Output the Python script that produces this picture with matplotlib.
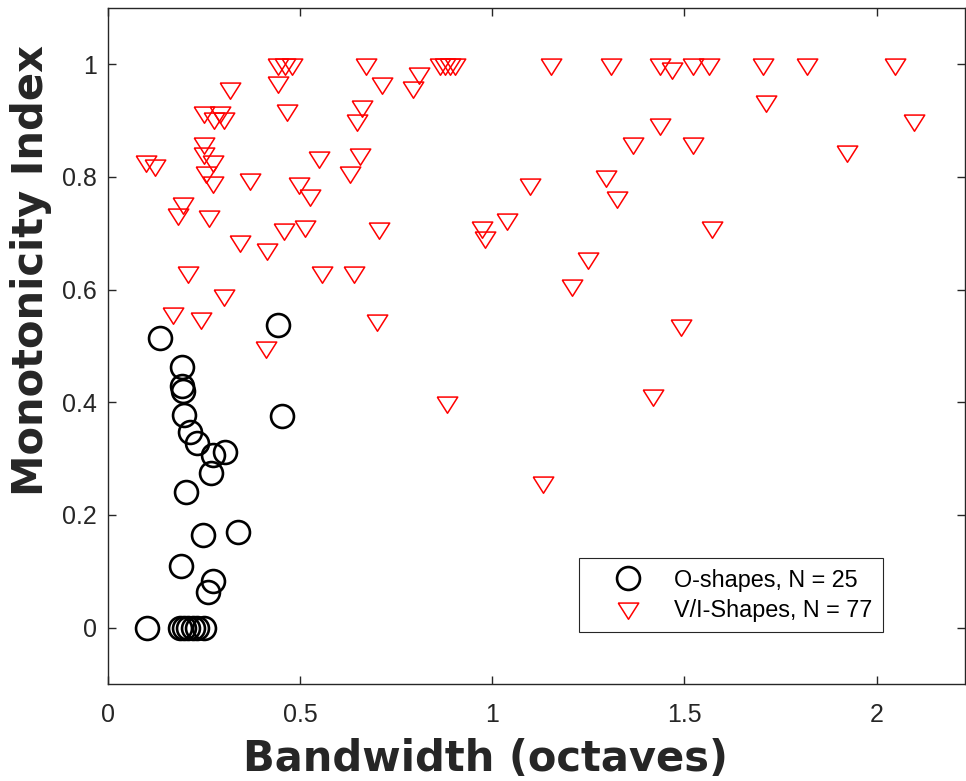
import numpy as np
import matplotlib.pyplot as plt

plt.rcParams['font.family'] = ['Liberation Sans', 'DejaVu Sans']

# O-shapes (black circles)
o_bw = [0.136, 0.443, 0.192, 0.193, 0.196, 0.452, 0.198, 0.213, 0.231, 0.273,
        0.304, 0.267, 0.203, 0.247, 0.338, 0.189, 0.274, 0.260, 0.101,
        0.188, 0.198, 0.208, 0.221, 0.232, 0.250]
o_mi = [0.515, 0.537, 0.463, 0.429, 0.421, 0.376, 0.377, 0.348, 0.328, 0.306,
        0.312, 0.274, 0.241, 0.164, 0.170, 0.110, 0.083, 0.064, 0.0,
        0.0, 0.0, 0.0, 0.0, 0.0, 0.0]

# V/I-shapes (red triangles)
v_bw = [0.100, 0.121, 0.317, 0.443, 0.480, 0.443, 0.465, 0.250, 0.292, 0.276,
        0.302, 0.251, 0.251, 0.272, 0.256, 0.272, 0.550, 0.370, 0.498, 0.526,
        0.195, 0.181, 0.262, 0.344, 0.415, 0.458, 0.513, 0.207, 0.557, 0.302,
        0.169, 0.241, 0.410,
        0.672, 0.714, 0.810, 0.794, 0.865, 0.877, 0.903, 1.153, 0.662, 0.649,
        0.656, 0.629, 1.365, 1.297, 1.325, 1.097, 0.704, 0.972, 0.981, 1.039,
        0.641, 1.249, 1.207, 0.701,
        0.883, 1.131,
        1.309, 1.437, 1.467, 1.522, 1.565, 1.704, 1.818, 2.049,
        1.712, 2.096, 1.4375, 1.522, 1.922, 1.571,
        1.492, 1.417,
        0.460, 0.890]
v_mi = [0.828, 0.821, 0.958, 1.0, 1.0, 0.968, 0.919, 0.916, 0.916, 0.904,
        0.904, 0.860, 0.843, 0.828, 0.809, 0.792, 0.835, 0.796, 0.789, 0.768,
        0.753, 0.734, 0.730, 0.686, 0.672, 0.707, 0.713, 0.632, 0.631, 0.590,
        0.558, 0.550, 0.499,
        1.0, 0.966, 0.984, 0.960, 1.0, 1.0, 1.0, 1.0, 0.926, 0.902,
        0.840, 0.809, 0.860, 0.801, 0.765, 0.788, 0.710, 0.712, 0.693, 0.726,
        0.631, 0.656, 0.609, 0.546,
        0.400, 0.258,
        1.0, 1.0, 0.994, 1.0, 1.0, 1.0, 1.0, 1.0,
        0.935, 0.902, 0.894, 0.861, 0.846, 0.711,
        0.538, 0.413,
        1.0, 1.0]

o_label = "O-shapes, N = 25"
v_label = "V/I-Shapes, N = 77"

# downward triangle centred on its centroid, like MATLAB's 'v'
tri = [(-1, 0.53), (1, 0.53), (0, -1.05), (-1, 0.53)]

fig = plt.figure(figsize=(9.66, 7.81), dpi=100)
ax = fig.add_axes([108 / 966, 1 - 684 / 781, 857 / 966, 676 / 781])

ax.plot(o_bw, o_mi, linestyle='none', marker='o', markersize=16.5,
        markerfacecolor='none', markeredgecolor='black', markeredgewidth=1.9,
        label=o_label)
ax.plot(v_bw, v_mi, linestyle='none', marker=tri, markersize=15.5,
        markerfacecolor='none', markeredgecolor='red', markeredgewidth=1.1,
        label=v_label)

ax.set_xlim(0, 2.23)
ax.set_ylim(-0.1, 1.1)
ax.set_xticks([0, 0.5, 1, 1.5, 2])
ax.set_xticklabels(['0', '0.5', '1', '1.5', '2'])
ax.set_yticks([0, 0.2, 0.4, 0.6, 0.8, 1])
ax.set_yticklabels(['0', '0.2', '0.4', '0.6', '0.8', '1'])
ax.tick_params(direction='in', length=6, width=1, top=True, right=True,
               labelsize=18, colors='#262626')
ax.tick_params(axis='x', pad=14)
ax.tick_params(axis='y', pad=8)
for s in ax.spines.values():
    s.set_color('#262626')
    s.set_linewidth(1)

# the reference labels use a wide bold face
ax.set_xlabel('Bandwidth (octaves)', fontsize=30, fontweight='bold',
              family='DejaVu Sans', color='#262626')
ax.set_ylabel('Monotonicity Index', fontsize=30, fontweight='bold',
              family='DejaVu Sans', color='#262626')
ax.xaxis.set_label_coords(0.44, -0.080)
ax.yaxis.set_label_coords(-0.065, 0.612)

leg = ax.legend(loc='lower right', bbox_to_anchor=(0.9043, 0.0769), fontsize=16.8,
                fancybox=False, framealpha=1, edgecolor='#262626',
                borderaxespad=0, handlelength=3.3, handletextpad=0.35,
                borderpad=0.45, labelspacing=0.3)
leg.get_frame().set_linewidth(0.8)

fig.savefig('out.png', dpi=100)
